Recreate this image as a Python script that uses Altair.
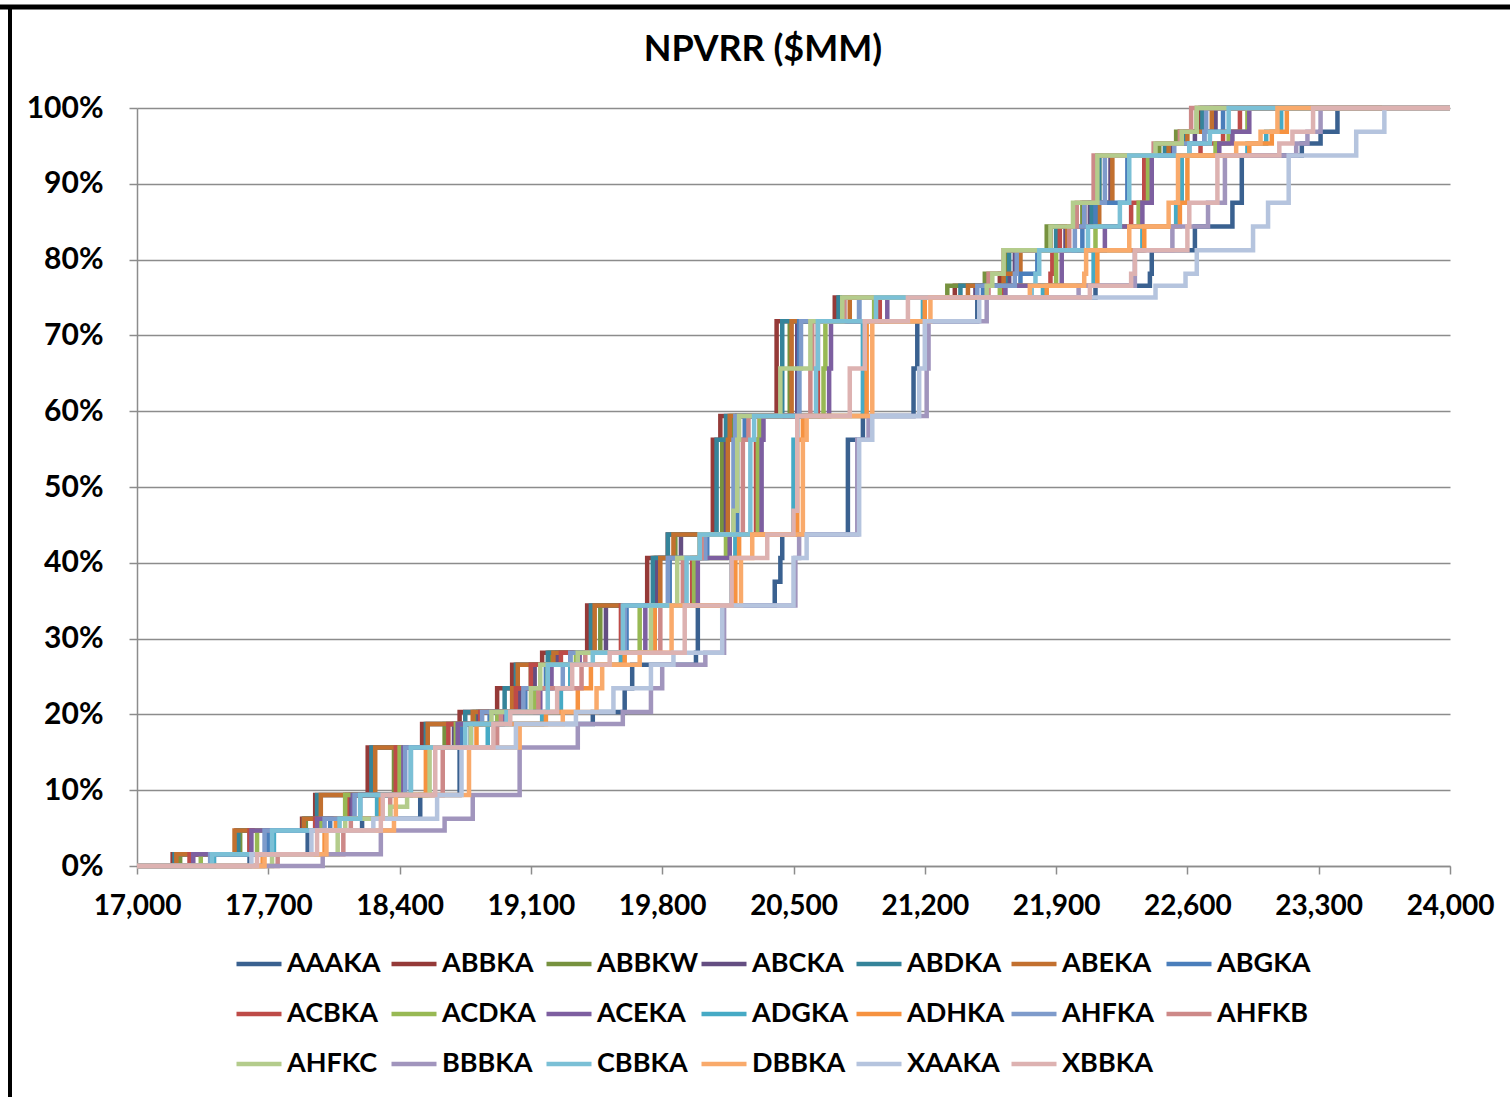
import altair as alt
import pandas as pd

# cumulative probability levels (in 64ths of the scenarios)
levels = [1, 3, 4, 5, 6, 10, 12, 13, 15, 17, 18, 22, 24, 26, 28, 30, 36, 38, 42, 46,
          48, 49, 50, 52, 54, 56, 60, 61, 62, 64]

series_names = ["AAAKA", "ABBKA", "ABBKW", "ABCKA", "ABDKA", "ABEKA", "ABGKA",
                "ACBKA", "ACDKA", "ACEKA", "ADGKA", "ADHKA", "AHFKA", "AHFKB",
                "AHFKC", "BBBKA", "CBBKA", "DBBKA", "XAAKA", "XBBKA"]

series_colors = ["#3A6190", "#953A38", "#77923F", "#644E82", "#35849A", "#C2702F", "#4A7EBB",
                 "#BE4B48", "#98B954", "#7D5FA0", "#46AAC5", "#F69240", "#7E9BCB", "#CD8988",
                 "#B4CC8C", "#A195BD", "#7BC0D6", "#F9AA6B", "#B5C4DE", "#DDB2B1"]

# NPVRR ($MM) at which each series reaches each cumulative level
AAAKA = [17600, 17910, 18200, 18510, 18510, 18720, 18780, 19430, 19600, 19640, 19980, 19990, 20400, 20430, 20440, 20790, 20790, 20870, 21140, 21160, 21480, 22110, 22400, 22410, 22640, 22840, 22890, 23210, 23310, 23400]
ABBKA = [17190, 17530, 17880, 17950, 17950, 18230, 18520, 18720, 18920, 19000, 19160, 19400, 19720, 19720, 19830, 20070, 20070, 20110, 20410, 20410, 20720, 21360, 21600, 21630, 21870, 22050, 22120, 22440, 22560, 22670]
ABBKW = [17230, 17550, 17900, 18110, 18110, 18370, 18640, 18800, 19020, 19100, 19200, 19470, 19760, 19760, 19870, 20120, 20120, 20170, 20480, 20480, 20750, 21320, 21520, 21630, 21850, 22040, 22130, 22450, 22540, 22650]
ABCKA = [17290, 17600, 17950, 18140, 18140, 18390, 18690, 18820, 19040, 19120, 19240, 19500, 19770, 19770, 19900, 20140, 20140, 20200, 20520, 20520, 20770, 21470, 21650, 21680, 21950, 22080, 22190, 22510, 22640, 22750]
ABDKA = [17200, 17540, 17890, 17960, 17960, 18250, 18540, 18750, 18960, 19020, 19190, 19420, 19750, 19750, 19830, 20090, 20090, 20140, 20440, 20440, 20740, 21390, 21630, 21650, 21900, 22090, 22130, 22480, 22590, 22680]
ABEKA = [17210, 17520, 17890, 17980, 17980, 18270, 18550, 18790, 19000, 19030, 19220, 19440, 19790, 19790, 19860, 20150, 20150, 20160, 20490, 20490, 20800, 21430, 21620, 21710, 21960, 22130, 22200, 22500, 22600, 22730]
ABGKA = [17410, 17700, 18030, 18190, 18190, 18460, 18730, 18880, 19070, 19180, 19310, 19610, 19840, 19840, 20040, 20200, 20200, 20240, 20530, 20530, 20850, 21510, 21710, 21800, 22040, 22110, 22280, 22610, 22690, 22790]
ACBKA = [17280, 17600, 17950, 18120, 18120, 18380, 18660, 18830, 19020, 19100, 19260, 19580, 19960, 19960, 20000, 20300, 20300, 20320, 20630, 20630, 20960, 21620, 21870, 21880, 21920, 22300, 22370, 22670, 22790, 22880]
ACDKA = [17340, 17640, 17980, 18110, 18110, 18400, 18700, 18920, 19120, 19190, 19340, 19680, 19970, 19970, 20140, 20310, 20310, 20320, 20660, 20670, 20930, 21600, 21900, 21900, 22110, 22340, 22390, 22750, 22820, 22920]
ACEKA = [17300, 17610, 17960, 18150, 18150, 18420, 18710, 18950, 19150, 19210, 19360, 19710, 19990, 19990, 20160, 20330, 20330, 20340, 20690, 20700, 21000, 21630, 21930, 21930, 22160, 22360, 22410, 22770, 22840, 22930]
ADGKA = [17410, 17730, 18070, 18280, 18280, 18550, 18870, 19160, 19260, 19310, 19580, 19760, 20170, 20170, 20190, 20500, 20500, 20520, 20870, 20870, 21190, 21830, 22100, 22100, 22360, 22540, 22570, 22920, 23020, 23100]
ADHKA = [17670, 18000, 18060, 18300, 18300, 18540, 18810, 19180, 19350, 19420, 19600, 19760, 20190, 20190, 20210, 20520, 20520, 20550, 20890, 20890, 21200, 21850, 22120, 22120, 22370, 22560, 22600, 22930, 23050, 23130]
AHFKA = [17390, 17680, 18000, 18160, 18160, 18430, 18780, 18840, 19060, 19270, 19310, 19600, 19830, 19830, 20030, 20180, 20180, 20190, 20530, 20540, 20850, 21480, 21680, 21690, 22000, 22050, 22160, 22530, 22690, 22700]
AHFKB = [17750, 18100, 18140, 18350, 18350, 18630, 18920, 18940, 19140, 19370, 19390, 19790, 19910, 19910, 20010, 20230, 20230, 20260, 20590, 20600, 20770, 21540, 21540, 21620, 21970, 22010, 22100, 22420, 22560, 22620]
AHFKC = [17720, 18070, 18110, 18350, 18440, 18560, 18780, 18890, 19100, 19150, 19350, 19740, 19880, 19880, 20000, 20180, 20200, 20210, 20430, 20590, 20760, 21530, 21560, 21620, 21870, 21990, 22120, 22430, 22570, 22650]
BBBKA = [17990, 18300, 18640, 18790, 18790, 19040, 19350, 19590, 19740, 19800, 20030, 20130, 20510, 20510, 20530, 20840, 20840, 20900, 21210, 21220, 21530, 22020, 22320, 22320, 22520, 22710, 22800, 23180, 23240, 23310]
CBBKA = [17400, 17720, 18080, 18190, 18190, 18460, 18750, 18970, 19190, 19190, 19430, 19590, 19930, 19930, 20000, 20270, 20270, 20290, 20620, 20630, 20940, 21770, 21790, 21810, 22070, 22240, 22290, 22610, 22720, 22820]
DBBKA = [17680, 18010, 18370, 18380, 18380, 18770, 19040, 19270, 19450, 19480, 19680, 19850, 20220, 20220, 20280, 20550, 20550, 20570, 20920, 20920, 21230, 21760, 22050, 22060, 22290, 22500, 22550, 22860, 22990, 23080]
XAAKA = [17610, 17930, 18260, 18600, 18600, 18730, 19020, 19340, 19540, 19740, 19860, 20120, 20500, 20500, 20570, 20850, 20850, 20920, 21170, 21200, 21490, 22430, 22590, 22650, 22950, 23030, 23140, 23500, 23500, 23650]
XBBKA = [17640, 17960, 18300, 18310, 18310, 18590, 18900, 18990, 19240, 19320, 19520, 19920, 20170, 20170, 20360, 20500, 20520, 20520, 20800, 20880, 21110, 22080, 22300, 22320, 22600, 22610, 22760, 23090, 23160, 23270]

series_values = [AAAKA, ABBKA, ABBKW, ABCKA, ABDKA, ABEKA, ABGKA, ACBKA, ACDKA, ACEKA,
                 ADGKA, ADHKA, AHFKA, AHFKB, AHFKC, BBBKA, CBBKA, DBBKA, XAAKA, XBBKA]

x_ticks = [17000, 17700, 18400, 19100, 19800, 20500, 21200, 21900, 22600, 23300, 24000]
y_ticks = [0, 0.1, 0.2, 0.3, 0.4, 0.5, 0.6, 0.7, 0.8, 0.9, 1.0]
chart_title = "NPVRR ($MM)"

rows = []
for name, vals in zip(series_names, series_values):
    rows.append({"series": name, "idx": 0, "npvrr": x_ticks[0], "prob": 0.0})
    for i, (lv, v) in enumerate(zip(levels, vals)):
        rows.append({"series": name, "idx": i + 1, "npvrr": v, "prob": lv / 64})
    rows.append({"series": name, "idx": len(levels) + 1, "npvrr": x_ticks[-1], "prob": 1.0})
df = pd.DataFrame(rows)

FONT = "Lato"
GRID = "#8C8C8C"

lines = alt.Chart(df).mark_line(strokeWidth=4.5, interpolate="step-after").encode(
    x=alt.X("npvrr:Q",
            scale=alt.Scale(domain=[x_ticks[0], x_ticks[-1]], nice=False, zero=False),
            axis=alt.Axis(values=x_ticks, format=",.0f", title=None, grid=False,
                          labelFontSize=28, labelFontWeight="bold", labelFont=FONT,
                          labelColor="black", tickSize=8, tickColor=GRID, tickWidth=1.5,
                          domainColor=GRID, domainWidth=1.5, labelPadding=18,
                          labelOverlap=False, labelFlush=False, labelBound=False)),
    y=alt.Y("prob:Q", scale=alt.Scale(domain=[0, 1], nice=False),
            axis=alt.Axis(values=y_ticks, format=".0%", title=None, grid=True,
                          gridColor=GRID, gridWidth=1.5, labelFontSize=30,
                          labelFontWeight="bold", labelFont=FONT, labelColor="black",
                          tickSize=8, tickColor=GRID, tickWidth=1.5, domainColor=GRID,
                          domainWidth=1.5, labelPadding=26, labelFlush=False)),
    color=alt.Color("series:N",
                    scale=alt.Scale(domain=series_names, range=series_colors),
                    legend=alt.Legend(orient="none", legendX=97, legendY=831,
                                      direction="horizontal", columns=7, title=None,
                                      symbolType="stroke", symbolSize=2025,
                                      symbolStrokeWidth=4.5, labelFont=FONT,
                                      labelFontSize=27, labelFontWeight="bold",
                                      labelColor="black", labelOffset=3,
                                      columnPadding=-13, rowPadding=12, padding=0,
                                      gridAlign="all", labelLimit=300)),
    detail="series:N",
    order="idx:Q",
)

one_row = pd.DataFrame({"label": [chart_title]})
title_mark = alt.Chart(one_row).mark_text(
    font=FONT, fontSize=36, fontWeight="bold", color="black",
    align="center", baseline="middle").encode(
    x=alt.value(626), y=alt.value(-58), text="label:N")

top_border = alt.Chart(one_row).mark_rule(color="black", strokeWidth=5).encode(
    x=alt.value(-137), x2=alt.value(1373), y=alt.value(-101))
left_border = alt.Chart(one_row).mark_rule(color="black", strokeWidth=4).encode(
    x=alt.value(-127), y=alt.value(-101), y2=alt.value(989))

chart = alt.layer(lines, title_mark, top_border, left_border).properties(
    width=1313, height=758,
    autosize=alt.AutoSizeParams(type="none"),
    padding={"left": 137, "top": 108, "right": 60, "bottom": 231},
    background="white",
).configure_view(stroke=None)

chart.save("out.html", embed_options={"renderer": "svg", "actions": False})
